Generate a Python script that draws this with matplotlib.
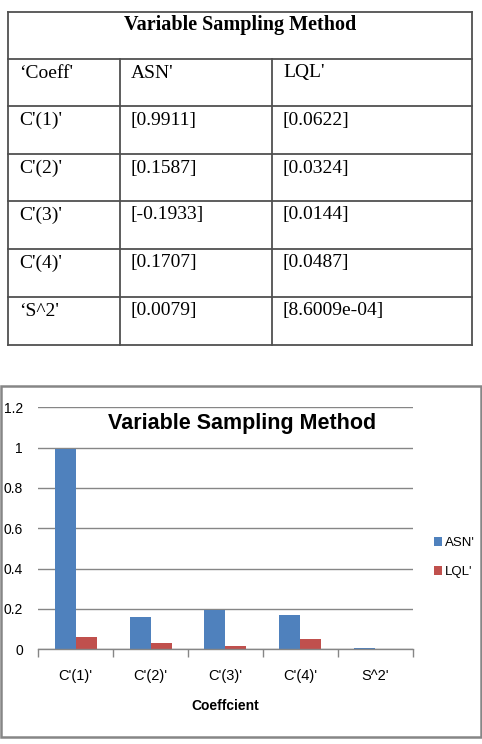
import matplotlib
matplotlib.use("Agg")
import matplotlib.pyplot as plt
import numpy as np

# table data
table_title = "Variable Sampling Method"
header = ["\u2018Coeff'", "ASN'", "LQL'"]
row_names = ["C'(1)'", "C'(2)'", "C'(3)'", "C'(4)'", "\u2018S^2'"]
asn_text = ["[0.9911]", "[0.1587]", "[-0.1933]", "[0.1707]", "[0.0079]"]
lql_text = ["[0.0622]", "[0.0324]", "[0.0144]", "[0.0487]", "[8.6009e-04]"]

# chart data (as plotted)
categories = ["C'(1)'", "C'(2)'", "C'(3)'", "C'(4)'", "S^2'"]
asn = [0.9911, 0.1587, 0.1933, 0.1707, 0.0079]
lql = [0.0622, 0.0324, 0.0144, 0.0487, 0.00086]
series_names = ["ASN'", "LQL'"]
colors = ["#4F81BD", "#C0504D"]

W, H = 482, 744
fig = plt.figure(figsize=(W / 100, H / 100), dpi=100)

serif = ["Liberation Serif", "DejaVu Serif"]
sans = ["Liberation Sans", "DejaVu Sans"]

# ---- table, drawn in pixel coords ----
tax = fig.add_axes([0, 0, 1, 1])
tax.set_xlim(0, W)
tax.set_ylim(H, 0)
tax.axis("off")

col_x = [8, 120, 272, 472]
row_y = [12, 59, 106, 154, 201, 249, 297, 345]
lc = "#505050"
for y in row_y:
    tax.plot([col_x[0], col_x[-1]], [y, y], color=lc, lw=1.3)
tax.plot([col_x[0], col_x[0]], [row_y[0], row_y[-1]], color=lc, lw=1.3)
tax.plot([col_x[-1], col_x[-1]], [row_y[0], row_y[-1]], color=lc, lw=1.3)
for x in col_x[1:3]:
    tax.plot([x, x], [row_y[1], row_y[-1]], color=lc, lw=1.3)

tax.text((col_x[0] + col_x[-1]) / 2, row_y[0] + 13, table_title, ha="center", va="center",
         fontsize=14.5, fontweight="bold", family=serif)
rows = [header] + [[r, a, l] for r, a, l in zip(row_names, asn_text, lql_text)]
for i, row in enumerate(rows):
    for j, txt in enumerate(row):
        tax.text(col_x[j] + 11, row_y[i + 1] + 14, txt, ha="left", va="center",
                 fontsize=14, family=serif)

# chart border
tax.add_patch(plt.Rectangle((1, 386), 480, 351, fill=False, ec="#868686", lw=1.8))

# ---- bar chart ----
ax = fig.add_axes([38.3 / W, (H - 649.3) / H, (412.5 - 38.3) / W, 242 / H])
x = np.arange(len(categories))
bw = 0.28
ax.bar(x - bw / 2, asn, bw, color=colors[0], label=series_names[0])
ax.bar(x + bw / 2, lql, bw, color=colors[1], label=series_names[1])
ax.set_xlim(-0.5, len(categories) - 0.5)
ax.set_ylim(0, 1.2)
ax.set_yticks([0, 0.2, 0.4, 0.6, 0.8, 1.0, 1.2])
ax.set_yticklabels(["0", "0.2", "0.4", "0.6", "0.8", "1", "1.2"])
ax.yaxis.grid(True, color="#868686", lw=1)
ax.set_axisbelow(True)
for s in ["left", "right", "top"]:
    ax.spines[s].set_visible(False)
ax.spines["bottom"].set_color("#868686")
ax.spines["bottom"].set_linewidth(1)
ax.set_xticks(x)
ax.set_xticklabels(categories, family=sans, fontsize=10.5)
ax.set_xticks(np.arange(-0.5, len(categories)), minor=True)
ax.tick_params(axis="x", which="major", length=0, pad=14)
ax.tick_params(axis="x", which="minor", length=6, color="#868686", width=1)
ax.tick_params(axis="y", length=0, pad=11, labelsize=10)
for t in ax.get_yticklabels():
    t.set_family(sans)
ax.set_xlabel("Coeffcient", family=sans, fontweight="bold", fontsize=10, labelpad=12)

fig.text(242 / W, 1 - 423 / H, "Variable Sampling Method", ha="center", va="center",
         fontsize=15.5, fontweight="bold", family=sans)

leg = ax.legend(loc="upper left", bbox_to_anchor=(1.057, 0.465), frameon=False, borderpad=0,
                borderaxespad=0, handlelength=0.6, handleheight=0.7, handletextpad=0.25,
                labelspacing=1.3, prop={"family": sans, "size": 9.5})

fig.savefig("out.png", dpi=100)
